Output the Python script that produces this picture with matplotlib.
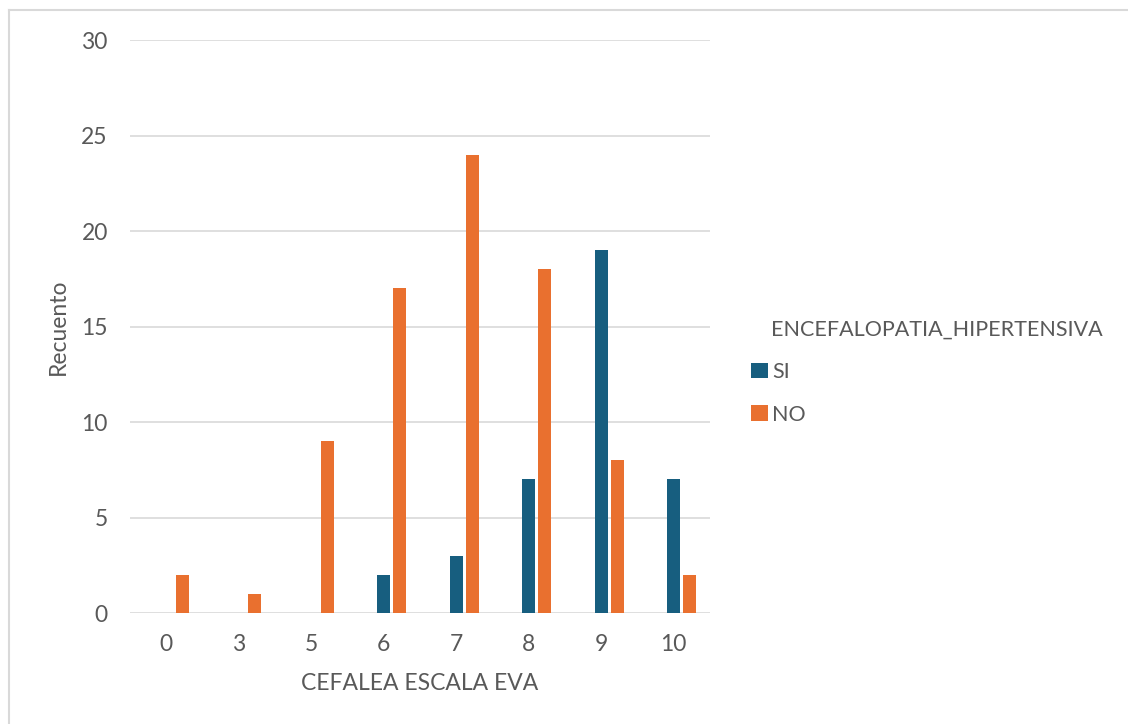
import matplotlib
matplotlib.use("Agg")
import matplotlib.pyplot as plt
from matplotlib.lines import Line2D
import numpy as np

# conteos por escala EVA de cefalea
categorias = ["0", "3", "5", "6", "7", "8", "9", "10"]
si_vals = [0, 0, 0, 2, 3, 7, 19, 7]
no_vals = [2, 1, 9, 17, 24, 18, 8, 2]

AZUL = "#175e7f"
NARANJA = "#e9702f"
GRIS_TXT = "#595959"

plt.rcParams['font.family'] = ['Lato', 'DejaVu Sans']

fig = plt.figure(figsize=(11.28, 7.24), dpi=100)
ax = fig.add_axes([130 / 1128, 1 - 613 / 724, 580 / 1128, 573 / 724])

x = np.arange(len(categorias))
ancho = 0.18
ax.bar(x, si_vals, width=ancho, color=AZUL, label="SI", zorder=3)
ax.bar(x + 0.22, no_vals, width=ancho, color=NARANJA, label="NO", zorder=3)

ax.set_xlim(-0.5, len(categorias) - 0.5)
ax.set_ylim(0, 30)
ax.set_yticks(range(0, 31, 5))
ax.set_xticks(x)
ax.set_xticklabels(categorias)
ax.grid(axis="y", color="#d9d9d9", linewidth=1.2, zorder=0)
for s in ax.spines.values():
    s.set_visible(False)
ax.tick_params(length=0, labelsize=16.5, colors=GRIS_TXT, pad=15)
ax.tick_params(axis="y", pad=16)

ax.set_xlabel("CEFALEA ESCALA EVA", fontsize=16.5, color=GRIS_TXT, labelpad=13)
ax.set_ylabel("Recuento", fontsize=16.5, color=GRIS_TXT, labelpad=9)

leg = fig.legend(title="ENCEFALOPATIA_HIPERTENSIVA", loc="upper left",
                 bbox_to_anchor=(732 / 1128, 1 - 300 / 724), frameon=False,
                 fontsize=15.5, title_fontsize=15.5, handlelength=0.75,
                 handleheight=0.75, handletextpad=0.2, labelspacing=1.05,
                 alignment="left")
leg.get_title().set_color(GRIS_TXT)
leg.get_title().set_x(20)
for t in leg.get_texts():
    t.set_color(GRIS_TXT)

# borde del gráfico
fig.add_artist(Line2D([9 / 1128, 1], [1 - 10 / 724, 1 - 10 / 724],
                      transform=fig.transFigure, color="#d9d9d9", linewidth=1.5))
fig.add_artist(Line2D([9 / 1128, 9 / 1128], [0, 1 - 10 / 724],
                      transform=fig.transFigure, color="#d9d9d9", linewidth=1.5))

fig.savefig("out.png", dpi=100)
